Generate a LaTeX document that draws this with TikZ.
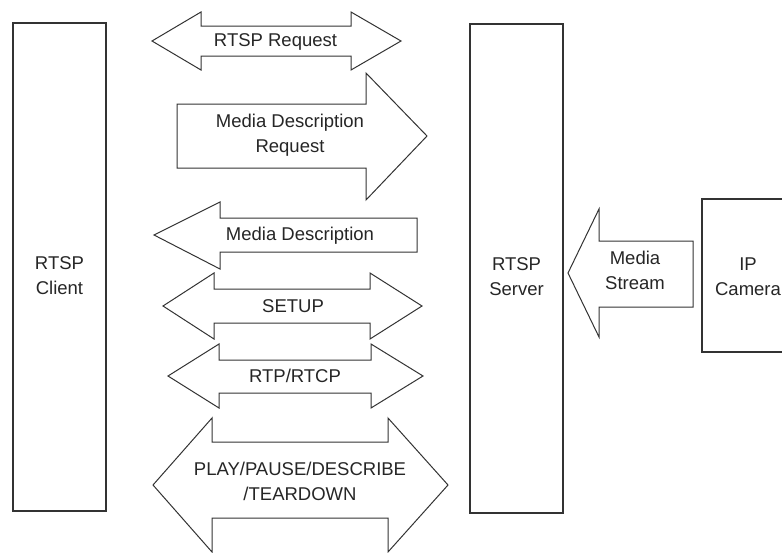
\documentclass[tikz,border=0pt]{standalone}
\usepackage{fontspec}
\setmainfont{Liberation Sans}
\begin{document}
\begin{tikzpicture}[x=1pt,y=-1pt,
  boxline/.style={draw=black!80, line width=1.3pt},
  arrline/.style={draw=black!80, line width=1pt, fill=white, line join=miter},
  lbl/.style={inner sep=0pt, text=black!85, font=\fontsize{18.5}{25}\selectfont, align=center}]
\useasboundingbox (0,0) rectangle (782,552);
\clip (0,0) rectangle (782,552);
% boxes
\draw[boxline] (13,23) rectangle (106,511);
\draw[boxline] (470,24) rectangle (563,513);
\draw[boxline] (702,199) rectangle (800,352);
% RTSP Request (double)
\draw[arrline] (152,41) -- (201,12) -- (201,26) -- (351,26) -- (351,12) -- (401,41)
  -- (351,70) -- (351,56) -- (201,56) -- (201,70) -- cycle;
% Media Description Request (right)
\draw[arrline] (177,104) -- (366,104) -- (366,73) -- (427,136) -- (366,200) -- (366,168) -- (177,168) -- cycle;
% Media Description (left)
\draw[arrline] (154,235) -- (220,202) -- (220,218) -- (417,218) -- (417,252) -- (220,252) -- (220,269) -- cycle;
% SETUP (double)
\draw[arrline] (163,306) -- (214,273) -- (214,289) -- (370,289) -- (370,273) -- (422,306)
  -- (370,339) -- (370,323) -- (214,323) -- (214,339) -- cycle;
% RTP/RTCP (double)
\draw[arrline] (168,376) -- (219,344) -- (219,360) -- (371,360) -- (371,344) -- (423,376)
  -- (371,408) -- (371,393) -- (219,393) -- (219,408) -- cycle;
% PLAY/PAUSE... (double)
\draw[arrline] (153,485) -- (212,418) -- (212,442) -- (388,442) -- (388,418) -- (448,485)
  -- (388,552) -- (388,518) -- (212,518) -- (212,552) -- cycle;
% Media Stream (left)
\draw[arrline] (568,273) -- (599,209) -- (599,241) -- (693,241) -- (693,307) -- (599,307) -- (599,337) -- cycle;
% labels
\node[lbl] (client) at (59.5,276) {RTSP\\Client};
\node[lbl] (server) at (516.5,276.5) {RTSP\\Server};
\node[lbl] (camera) at (748,276.5) {IP\\Camera};
\node[lbl] (stream) at (635,270) {Media\\Stream};
\node[lbl, anchor=base] (req) at (275.5,46) {RTSP Request};
\node[lbl] (mdreq) at (290,135) {Media Description\\Request};
\node[lbl, anchor=base] (md) at (300,240) {Media Description};
\node[lbl, anchor=base] (setup) at (293,312) {SETUP};
\node[lbl, anchor=base] (rtp) at (295,382) {RTP/RTCP};
\node[lbl] (play) at (300,481.5) {PLAY/PAUSE/DESCRIBE\\/TEARDOWN};
\end{tikzpicture}
\end{document}
